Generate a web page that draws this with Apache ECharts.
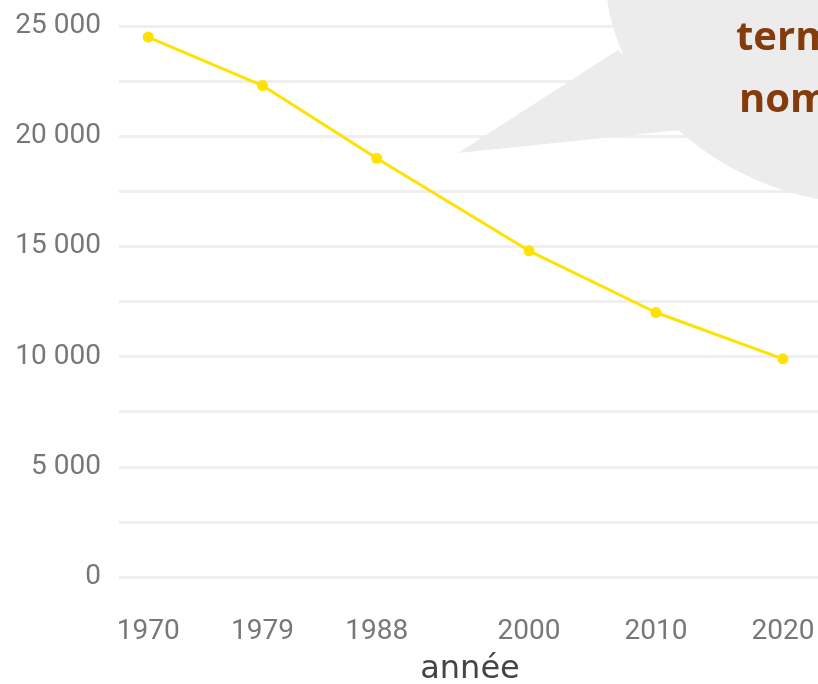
<!DOCTYPE html>
<html>
<head>
<meta charset="utf-8">
<script src="https://cdn.jsdelivr.net/npm/echarts@6/dist/echarts.min.js"></script>
<style>html,body{margin:0;padding:0;background:#fff;}#c{width:818px;height:684px;}</style>
</head>
<body>
<div id="c"></div>
<script>
const years = [1970, 1979, 1988, 2000, 2010, 2020];
const values = [24500, 22300, 19000, 14800, 12000, 9900];
const yTicks = [0, 5000, 10000, 15000, 20000, 25000];
const bubbleLines = ['term', 'nom'];

function fmt(v) {
  return String(v).replace(/\B(?=(\d{3})+(?!\d))/g, ' ');
}

const chart = echarts.init(document.getElementById('c'), null, {renderer: 'canvas'});
chart.setOption({
  animation: false,
  grid: {left: 119, top: 26, width: 702, height: 551, containLabel: false, outerBoundsMode: 'none'},
  xAxis: {
    type: 'value', min: 1967.7, max: 2023,
    axisLine: {show: false}, axisTick: {show: false}, splitLine: {show: false},
    axisLabel: {customValues: years, color: '#777', fontSize: 28, fontFamily: 'Roboto', margin: 41,
      formatter: v => String(v)},
    name: 'année', nameLocation: 'middle', nameGap: 77,
    nameTextStyle: {color: '#444', fontSize: 32, fontFamily: 'DejaVu Sans'}
  },
  yAxis: {
    type: 'value', min: 0, max: 25000, interval: 2500,
    axisLine: {show: false}, axisTick: {show: false},
    splitLine: {show: true, lineStyle: {color: '#efefef', width: 3}},
    axisLabel: {color: '#777', fontSize: 28, fontFamily: 'Roboto', margin: 18,
      formatter: v => (yTicks.indexOf(v) >= 0 ? fmt(v) : '')}
  },
  series: [{
    type: 'line',
    data: years.map((y, i) => [y, values[i]]),
    lineStyle: {color: '#ffe200', width: 3},
    itemStyle: {color: '#ffe200'},
    symbol: 'circle', symbolSize: 11
  }],
  graphic: [
    {type: 'polygon', z: 100, shape: {points: [[618, 50], [458, 153], [700, 128]]}, style: {fill: '#ececec'}},
    {type: 'ellipse', z: 100, shape: {cx: 880, cy: -30, rx: 275, ry: 235}, style: {fill: '#ececec'}},
    {type: 'text', z: 101, left: 736, top: 19, style: {text: bubbleLines[0], fill: '#843c0c', font: 'bold 40px "Open Sans"'}},
    {type: 'text', z: 101, left: 739, top: 81, style: {text: bubbleLines[1], fill: '#843c0c', font: 'bold 40px "Open Sans"'}}
  ]
});
</script>
</body>
</html>
